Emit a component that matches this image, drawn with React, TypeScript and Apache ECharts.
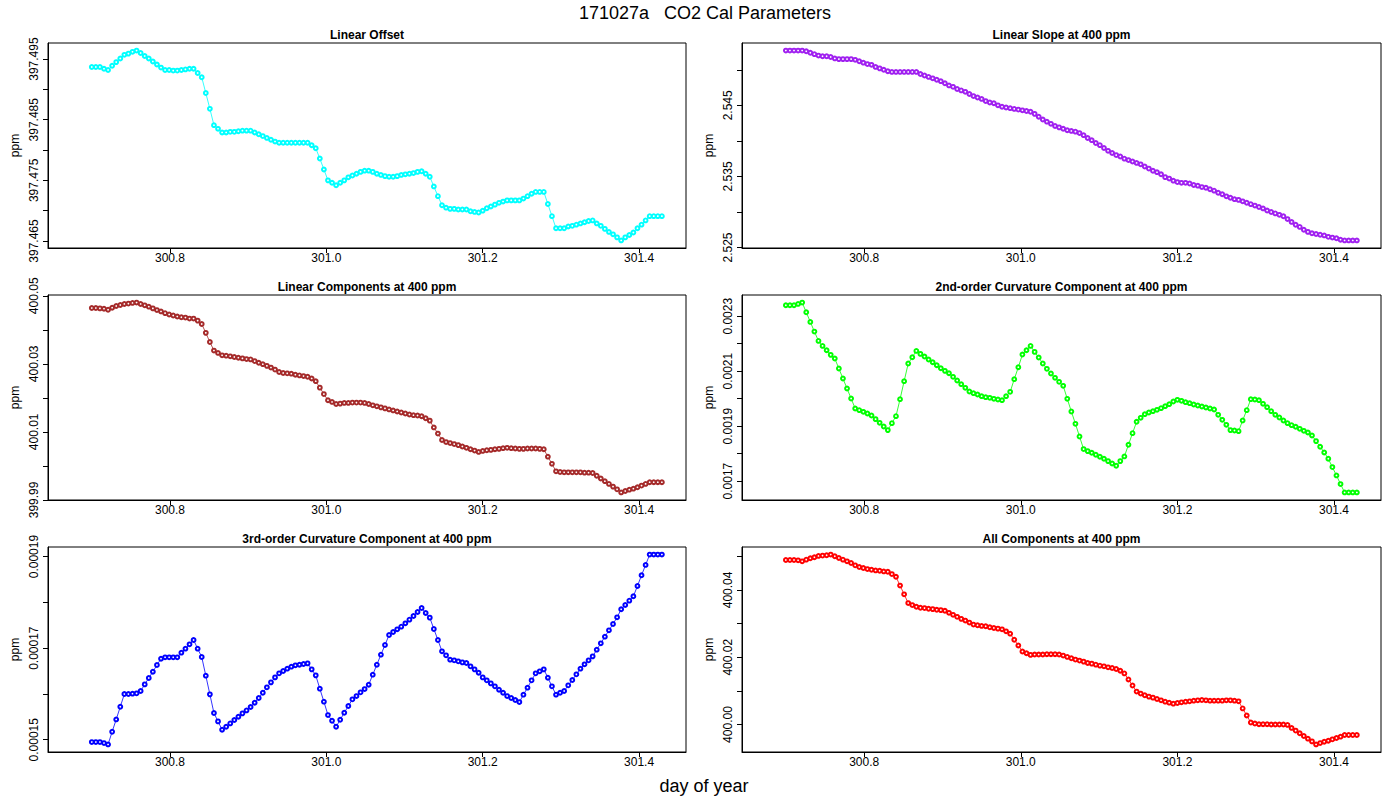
import React, { useEffect, useRef } from "react";
import * as echarts from "echarts";

// cal cycle: one sample every 7.5 minutes, starting at day 300.70
const sampleStartDay = 300.7;
const sampleStepDay = 7.5 / 1440;
const sampleCount = 141;
const dayOfYear: number[] = Array.from({ length: sampleCount }, (_, i) => sampleStartDay + i * sampleStepDay);

const linearOffset = [
  397.4937, 397.4937, 397.4937, 397.4934, 397.4932, 397.4939, 397.4945, 397.4951, 397.4957, 397.4959,
  397.4962, 397.4964, 397.496, 397.4955, 397.4951, 397.4946, 397.4941, 397.4936, 397.4932, 397.4932,
  397.4931, 397.4931, 397.4932, 397.4933, 397.4934, 397.4934, 397.4927, 397.492, 397.4894, 397.4868,
  397.4841, 397.4835, 397.4829, 397.4829, 397.483, 397.483, 397.4831, 397.4832, 397.4832, 397.4832,
  397.4829, 397.4826, 397.4823, 397.482, 397.4817, 397.4814, 397.4812, 397.4812, 397.4812, 397.4812,
  397.4812, 397.4812, 397.4812, 397.4812, 397.4808, 397.4803, 397.4786, 397.4768, 397.475, 397.4746,
  397.4742, 397.4746, 397.475, 397.4755, 397.4758, 397.4761, 397.4764, 397.4766, 397.4766, 397.4764,
  397.4761, 397.4759, 397.4757, 397.4756, 397.4756, 397.4757, 397.4759, 397.476, 397.4761, 397.4762,
  397.4764, 397.4765, 397.4761, 397.4756, 397.474, 397.4724, 397.4709, 397.4705, 397.4703, 397.4703,
  397.4702, 397.4702, 397.4702, 397.4699, 397.4698, 397.4697, 397.47, 397.4704, 397.4707, 397.471,
  397.4713, 397.4715, 397.4717, 397.4717, 397.4717, 397.4717, 397.472, 397.4724, 397.4728, 397.4731,
  397.4731, 397.4731, 397.4711, 397.4691, 397.4671, 397.4671, 397.4671, 397.4674, 397.4675, 397.4677,
  397.4679, 397.4681, 397.4683, 397.4684, 397.4679, 397.4675, 397.467, 397.4665, 397.4661, 397.4656,
  397.4651, 397.4656, 397.466, 397.4664, 397.4671, 397.4677, 397.4684, 397.4691, 397.4691, 397.4691,
  397.4691,
];

const linearSlope = [
  2.5527, 2.5527, 2.5527, 2.5527, 2.5527, 2.5526, 2.5524, 2.5522, 2.552, 2.5519,
  2.5519, 2.5518, 2.5516, 2.5515, 2.5515, 2.5515, 2.5515, 2.5514, 2.5512, 2.551,
  2.5508, 2.5507, 2.5504, 2.5502, 2.55, 2.5498, 2.5497, 2.5497, 2.5497, 2.5497,
  2.5497, 2.5497, 2.5497, 2.5494, 2.5492, 2.549, 2.5488, 2.5486, 2.5484, 2.5481,
  2.5478, 2.5476, 2.5473, 2.5471, 2.5469, 2.5466, 2.5463, 2.5461, 2.5459, 2.5456,
  2.5454, 2.5453, 2.545, 2.5448, 2.5447, 2.5446, 2.5445, 2.5444, 2.5443, 2.5442,
  2.5441, 2.5438, 2.5434, 2.543, 2.5427, 2.5424, 2.5421, 2.5419, 2.5417, 2.5415,
  2.5414, 2.5413, 2.5411, 2.5408, 2.5404, 2.5401, 2.5397, 2.5394, 2.539, 2.5386,
  2.5383, 2.538, 2.5378, 2.5375, 2.5373, 2.5371, 2.5369, 2.5367, 2.5364, 2.5361,
  2.5358, 2.5356, 2.5353, 2.5349, 2.5347, 2.5344, 2.5342, 2.5341, 2.5341, 2.534,
  2.5338, 2.5337, 2.5335, 2.5334, 2.5332, 2.533, 2.5327, 2.5325, 2.5322, 2.532,
  2.5318, 2.5317, 2.5315, 2.5313, 2.5311, 2.5309, 2.5307, 2.5305, 2.5302, 2.53,
  2.5298, 2.5296, 2.5294, 2.529, 2.5286, 2.5282, 2.5279, 2.5275, 2.5272, 2.527,
  2.5269, 2.5268, 2.5267, 2.5265, 2.5264, 2.5263, 2.5261, 2.526, 2.526, 2.526,
  2.526,
];

const linearComponents = [
  400.0464, 400.0464, 400.0463, 400.0462, 400.0459, 400.0465, 400.047, 400.0473, 400.0476, 400.0477,
  400.0479, 400.048, 400.0476, 400.0472, 400.0468, 400.0463, 400.0458, 400.0454, 400.0449, 400.0445,
  400.0442, 400.0439, 400.0437, 400.0436, 400.0433, 400.0433, 400.0427, 400.0417, 400.0391, 400.0364,
  400.0339, 400.0332, 400.0325, 400.0324, 400.0322, 400.032, 400.0318, 400.0316, 400.0314, 400.0313,
  400.0308, 400.0303, 400.0299, 400.0294, 400.0289, 400.0283, 400.0276, 400.0273, 400.0272, 400.0271,
  400.0268, 400.0266, 400.0264, 400.0262, 400.0257, 400.0249, 400.023, 400.0211, 400.0193, 400.0188,
  400.0182, 400.0183, 400.0185, 400.0185, 400.0186, 400.0186, 400.0186, 400.0185, 400.0182, 400.0178,
  400.0175, 400.0172, 400.0169, 400.0166, 400.0163, 400.016, 400.0157, 400.0154, 400.0151, 400.0149,
  400.0148, 400.0146, 400.014, 400.0133, 400.0113, 400.0095, 400.0076, 400.007, 400.0067, 400.0064,
  400.0061, 400.0057, 400.0053, 400.0049, 400.0045, 400.0041, 400.0044, 400.0046, 400.0047, 400.0049,
  400.005, 400.0052, 400.0053, 400.0052, 400.0051, 400.005, 400.005, 400.0051, 400.0051, 400.0051,
  400.005, 400.0049, 400.0027, 400.0006, 399.9984, 399.9982, 399.9981, 399.9981, 399.9981, 399.9981,
  399.9981, 399.998, 399.998, 399.9979, 399.9971, 399.9963, 399.9955, 399.9947, 399.9939, 399.9931,
  399.9922, 399.9926, 399.993, 399.9933, 399.9937, 399.9942, 399.9947, 399.9952, 399.9952, 399.9952,
  399.9952,
];

const curvature2nd = [
  0.00234, 0.00234, 0.00234, 0.0023448, 0.0023497, 0.0023145, 0.0022794, 0.0022442, 0.0022103, 0.0021921,
  0.0021764, 0.0021594, 0.0021461, 0.0021097, 0.0020733, 0.002037, 0.0020006, 0.0019642, 0.0019582, 0.0019521,
  0.0019461, 0.0019388, 0.0019255, 0.0019121, 0.0018988, 0.0018855, 0.0019109, 0.0019364, 0.0019982, 0.0020636,
  0.0021279, 0.0021509, 0.0021739, 0.002163, 0.0021533, 0.0021424, 0.0021327, 0.0021218, 0.0021109, 0.0021012,
  0.0020927, 0.0020794, 0.0020661, 0.0020527, 0.0020394, 0.0020261, 0.00202, 0.0020152, 0.0020091, 0.0020055,
  0.002003, 0.0019994, 0.001997, 0.0019945, 0.0020091, 0.0020248, 0.0020709, 0.0021145, 0.0021606, 0.0021764,
  0.0021921, 0.0021703, 0.0021497, 0.0021279, 0.0021085, 0.0020915, 0.0020758, 0.0020612, 0.0020467, 0.0019994,
  0.0019533, 0.0019085, 0.0018624, 0.0018164, 0.0018091, 0.001803, 0.0017958, 0.0017885, 0.0017812, 0.0017727,
  0.0017642, 0.0017558, 0.0017727, 0.0017897, 0.0018321, 0.0018745, 0.0019158, 0.0019303, 0.0019436, 0.0019497,
  0.0019545, 0.0019594, 0.0019655, 0.0019727, 0.00198, 0.0019897, 0.0019958, 0.0019921, 0.0019873, 0.0019836,
  0.0019788, 0.0019752, 0.0019715, 0.0019679, 0.0019642, 0.0019606, 0.0019412, 0.001923, 0.0019048, 0.0018855,
  0.0018842, 0.0018818, 0.0019206, 0.0019582, 0.0019982, 0.001997, 0.0019945, 0.0019812, 0.0019691, 0.0019545,
  0.0019412, 0.0019315, 0.0019206, 0.0019109, 0.0019036, 0.0018976, 0.0018903, 0.001883, 0.001877, 0.0018661,
  0.0018455, 0.0018248, 0.0018042, 0.0017812, 0.0017509, 0.0017206, 0.0016891, 0.0016588, 0.0016588, 0.0016588,
  0.0016588,
];

const curvature3rd = [
  0.00014949, 0.00014949, 0.00014949, 0.00014927, 0.00014898, 0.00015175, 0.00015444, 0.00015721, 0.00015998, 0.00015998,
  0.00016006, 0.00016013, 0.00016064, 0.00016209, 0.00016348, 0.00016486, 0.00016632, 0.0001677, 0.000168, 0.000168,
  0.000168, 0.000168, 0.00016902, 0.00016989, 0.00017084, 0.00017179, 0.00016989, 0.00016807, 0.00016399, 0.00015991,
  0.00015583, 0.00015401, 0.00015219, 0.00015284, 0.00015357, 0.0001543, 0.00015503, 0.00015576, 0.00015641, 0.00015714,
  0.00015809, 0.00015911, 0.00016027, 0.00016144, 0.00016253, 0.00016362, 0.0001645, 0.00016501, 0.00016552, 0.00016596,
  0.00016625, 0.00016639, 0.00016654, 0.00016668, 0.00016537, 0.00016406, 0.00016115, 0.00015831, 0.00015539, 0.00015415,
  0.00015284, 0.00015437, 0.0001559, 0.00015736, 0.00015882, 0.00015954, 0.00016035, 0.00016107, 0.00016202, 0.00016421,
  0.00016639, 0.00016858, 0.00017069, 0.00017288, 0.00017353, 0.00017412, 0.0001747, 0.00017543, 0.00017623, 0.00017703,
  0.00017791, 0.00017878, 0.00017769, 0.00017667, 0.00017419, 0.00017179, 0.00016931, 0.00016843, 0.00016749, 0.00016734,
  0.00016712, 0.0001669, 0.00016676, 0.00016603, 0.00016537, 0.00016464, 0.00016362, 0.00016297, 0.00016231, 0.00016166,
  0.00016093, 0.00016027, 0.00015954, 0.00015911, 0.00015867, 0.00015823, 0.00015984, 0.00016137, 0.00016297, 0.0001645,
  0.00016494, 0.00016537, 0.00016355, 0.00016166, 0.00015984, 0.00016027, 0.00016064, 0.00016188, 0.00016304, 0.00016428,
  0.00016552, 0.00016647, 0.00016734, 0.00016821, 0.00016967, 0.00017106, 0.00017251, 0.0001739, 0.00017528, 0.00017674,
  0.00017849, 0.00017944, 0.00018038, 0.00018133, 0.00018359, 0.00018592, 0.00018818, 0.00019044, 0.00019044, 0.00019044,
  0.00019044,
];

const allComponents = [
  400.0489, 400.0489, 400.0489, 400.0488, 400.0485, 400.049, 400.0494, 400.0497, 400.0501, 400.0502,
  400.0503, 400.0505, 400.05, 400.0495, 400.049, 400.0485, 400.048, 400.0473, 400.0468, 400.0465,
  400.0462, 400.046, 400.0458, 400.0457, 400.0455, 400.0454, 400.0447, 400.0439, 400.0413, 400.0387,
  400.0361, 400.0355, 400.035, 400.0347, 400.0346, 400.0344, 400.0343, 400.0341, 400.034, 400.0338,
  400.0332, 400.0326, 400.032, 400.0314, 400.0309, 400.0303, 400.0297, 400.0295, 400.0293, 400.0292,
  400.0289, 400.0287, 400.0285, 400.0283, 400.0277, 400.027, 400.0252, 400.0235, 400.0217, 400.0212,
  400.0207, 400.0208, 400.0208, 400.0208, 400.0209, 400.0209, 400.0209, 400.0208, 400.0205, 400.0201,
  400.0197, 400.0193, 400.019, 400.0187, 400.0183, 400.0181, 400.0178, 400.0175, 400.0173, 400.017,
  400.0168, 400.0165, 400.016, 400.0152, 400.0134, 400.0116, 400.0098, 400.0092, 400.0087, 400.0083,
  400.008, 400.0076, 400.0072, 400.0068, 400.0065, 400.0062, 400.0064, 400.0066, 400.0068, 400.0069,
  400.0071, 400.0072, 400.0073, 400.0072, 400.0071, 400.0071, 400.0071, 400.0071, 400.0072, 400.0072,
  400.0071, 400.0069, 400.0048, 400.0027, 400.0006, 400.0003, 400.0001, 400.0001, 400.0001, 400.0,
  400.0, 400.0, 400.0, 399.9999, 399.999, 399.9982, 399.9974, 399.9966, 399.9958, 399.995,
  399.9941, 399.9945, 399.9949, 399.9952, 399.9956, 399.996, 399.9964, 399.9969, 399.9969, 399.9969,
  399.9969,
];

// axis ticks (R style: every tick drawn, every other one labelled)
const dayTicks = [300.8, 301.0, 301.2, 301.4];
const dayLimits = [300.644, 301.46];
const offsetTicks = [397.465, 397.47, 397.475, 397.48, 397.485, 397.49, 397.495];
const offsetLabels = [397.465, 397.475, 397.485, 397.495];
const slopeTicks = [2.525, 2.53, 2.535, 2.54, 2.545, 2.55];
const slopeLabels = [2.525, 2.535, 2.545];
const linCompTicks = [399.99, 400.0, 400.01, 400.02, 400.03, 400.04, 400.05];
const linCompLabels = [399.99, 400.01, 400.03, 400.05];
const curv2Ticks = [0.0017, 0.0018, 0.0019, 0.002, 0.0021, 0.0022, 0.0023];
const curv2Labels = [0.0017, 0.0019, 0.0021, 0.0023];
const curv3Ticks = [0.00015, 0.00016, 0.00017, 0.00018, 0.00019];
const curv3Labels = [0.00015, 0.00017, 0.00019];
const allTicks = [400.0, 400.01, 400.02, 400.03, 400.04, 400.05];
const allLabels = [400.0, 400.02, 400.04];

const panels = [
  { title: "Linear Offset", values: linearOffset, color: "#00FFFF", digits: 3, ticks: offsetTicks, labels: offsetLabels },
  { title: "Linear Slope at 400 ppm", values: linearSlope, color: "#A020F0", digits: 3, ticks: slopeTicks, labels: slopeLabels },
  { title: "Linear Components at 400 ppm", values: linearComponents, color: "#A52A2A", digits: 2, ticks: linCompTicks, labels: linCompLabels },
  { title: "2nd-order Curvature Component at 400 ppm", values: curvature2nd, color: "#00FF00", digits: 4, ticks: curv2Ticks, labels: curv2Labels },
  { title: "3rd-order Curvature Component at 400 ppm", values: curvature3rd, color: "#0000FF", digits: 5, ticks: curv3Ticks, labels: curv3Labels },
  { title: "All Components at 400 ppm", values: allComponents, color: "#FF0000", digits: 2, ticks: allTicks, labels: allLabels },
];

const FONT = "'Liberation Sans', Arial, Helvetica, sans-serif";
const colLeft = [48, 742];
const colWidth = [638, 639];
const rowTop = [43, 295, 547];
const panelHeight = 205;

// R's default axis extent: data range padded by 4% each side
const rRange = (vals: number[]) => {
  const lo = Math.min(...vals);
  const hi = Math.max(...vals);
  const pad = (hi - lo) * 0.04;
  return [lo - pad, hi + pad];
};

const CalParamsChart = () => {
  const chartRef = useRef<HTMLDivElement>(null);

  useEffect(() => {
    const chart = echarts.init(chartRef.current, null, { renderer: "svg" });

    const grids: any[] = [];
    const xAxes: any[] = [];
    const yAxes: any[] = [];
    const series: any[] = [];
    const texts: any[] = [];

    panels.forEach((p, k) => {
      const col = k % 2;
      const row = Math.floor(k / 2);
      const [yMin, yMax] = rRange(p.values);
      grids.push({
        left: colLeft[col],
        top: rowTop[row],
        width: colWidth[col],
        height: panelHeight,
        show: true,
        borderColor: "#000",
        borderWidth: 1,
      });
      xAxes.push({
        gridIndex: k,
        type: "value",
        min: dayLimits[0],
        max: dayLimits[1],
        axisLine: { show: true, onZero: false, lineStyle: { color: "#000", width: 1 } },
        axisTick: { show: true, length: 5, customValues: dayTicks, lineStyle: { color: "#000" } },
        axisLabel: {
          customValues: dayTicks,
          formatter: (v: number) => v.toFixed(1),
          color: "#000",
          fontSize: 12,
          fontFamily: FONT,
          margin: 4,
        },
        splitLine: { show: false },
      });
      yAxes.push({
        gridIndex: k,
        type: "value",
        min: yMin,
        max: yMax,
        name: "ppm",
        nameLocation: "middle",
        nameGap: 27,
        nameRotate: 90,
        nameTextStyle: { color: "#000", fontSize: 12, fontFamily: FONT },
        axisLine: { show: true, lineStyle: { color: "#000", width: 1 } },
        axisTick: { show: true, length: 5, customValues: p.ticks, lineStyle: { color: "#000" } },
        axisLabel: {
          customValues: p.labels,
          rotate: 90,
          formatter: (v: number) => v.toFixed(p.digits),
          color: "#000",
          fontSize: 12,
          fontFamily: FONT,
          margin: 8,
        },
        splitLine: { show: false },
      });
      series.push({
        type: "line",
        xAxisIndex: k,
        yAxisIndex: k,
        data: dayOfYear.map((d, i) => [d, p.values[i]]),
        symbol: "emptyCircle",
        symbolSize: 3.8,
        showAllSymbol: true,
        itemStyle: { color: p.color, borderWidth: 0.9 },
        lineStyle: { color: p.color, width: 0.8 },
        silent: true,
      });
      texts.push({
        type: "text",
        x: colLeft[col] + colWidth[col] / 2,
        y: rowTop[row] - 8.5,
        style: {
          text: p.title,
          font: `bold 12px ${FONT}`,
          fill: "#000",
          align: "center",
          verticalAlign: "middle",
          textAlign: "center",
          textVerticalAlign: "middle",
        },
      });
    });

    texts.push({
      type: "text",
      x: 705,
      y: 13,
      style: {
        text: "171027a   CO2 Cal Parameters",
        font: `18px ${FONT}`,
        fill: "#000",
        align: "center",
        verticalAlign: "middle",
        textAlign: "center",
        textVerticalAlign: "middle",
      },
    });
    texts.push({
      type: "text",
      x: 704,
      y: 786,
      style: {
        text: "day of year",
        font: `18px ${FONT}`,
        fill: "#000",
        align: "center",
        verticalAlign: "middle",
        textAlign: "center",
        textVerticalAlign: "middle",
      },
    });

    chart.setOption({
      animation: false,
      backgroundColor: "#fff",
      textStyle: { fontFamily: FONT },
      grid: grids,
      xAxis: xAxes,
      yAxis: yAxes,
      series,
      graphic: texts,
    });

    return () => {
      chart.dispose();
    };
  }, []);

  return (
    <div
      ref={chartRef}
      style={{ position: "absolute", left: 0, top: 0, width: 1400, height: 800, background: "#fff" }}
    />
  );
};

export default function App() {
  return <CalParamsChart />;
}
